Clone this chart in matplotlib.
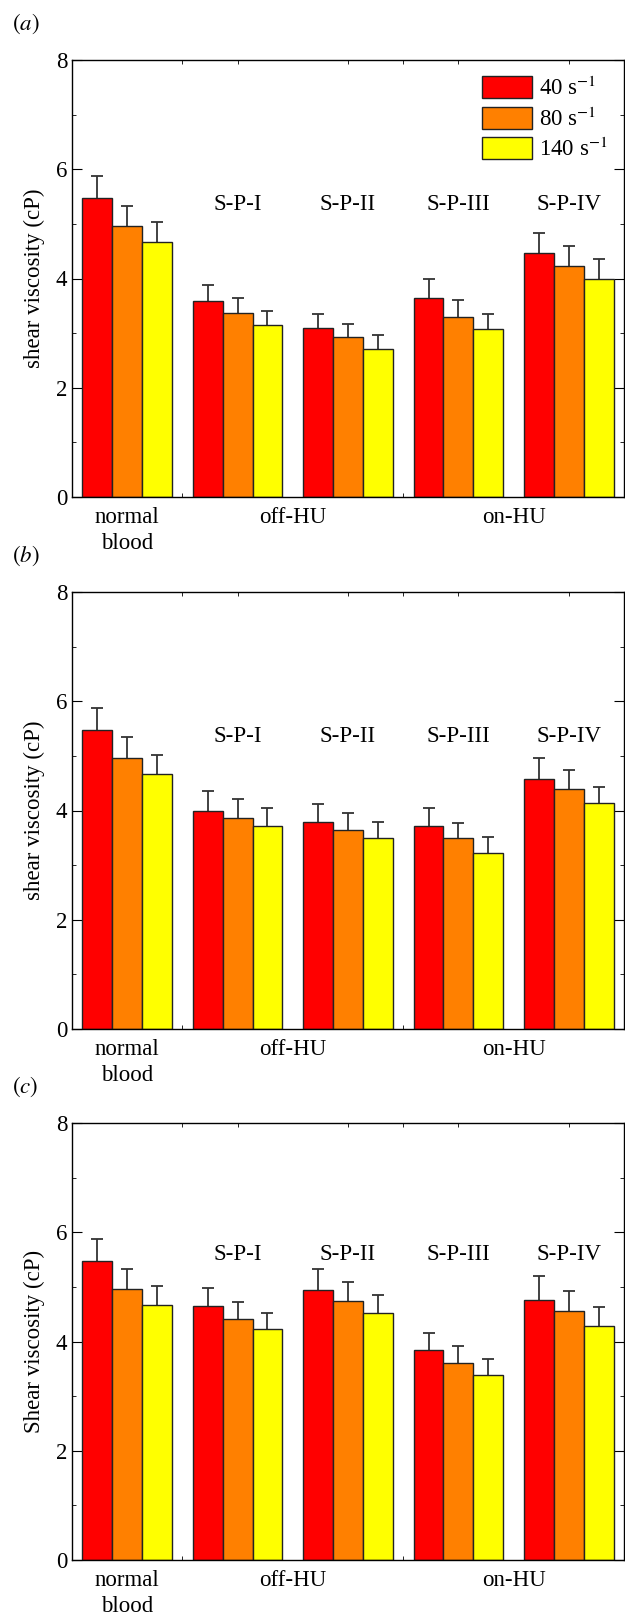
import numpy as np
import matplotlib
matplotlib.use('Agg')
import matplotlib.pyplot as plt

plt.rcParams['font.family'] = ['Liberation Serif', 'DejaVu Serif']
plt.rcParams['mathtext.fontset'] = 'stix'
plt.rcParams['font.size'] = 16.5

# data
groups = ['normal blood', 'S-P-I', 'S-P-II', 'S-P-III', 'S-P-IV']
group_tags = ['', 'S-P-I', 'S-P-II', 'S-P-III', 'S-P-IV']
rates = ['40 s$^{-1}$', '80 s$^{-1}$', '140 s$^{-1}$']

# panel (a)
a_40 = [5.48, 3.58, 3.09, 3.64, 4.47]
a_80 = [4.96, 3.37, 2.93, 3.30, 4.23]
a_140 = [4.67, 3.15, 2.71, 3.07, 3.99]
a_40_err = [0.40, 0.30, 0.26, 0.35, 0.37]
a_80_err = [0.37, 0.28, 0.24, 0.31, 0.37]
a_140_err = [0.36, 0.26, 0.26, 0.28, 0.37]

# panel (b)
b_40 = [5.48, 4.00, 3.79, 3.72, 4.57]
b_80 = [4.97, 3.87, 3.65, 3.49, 4.40]
b_140 = [4.67, 3.72, 3.49, 3.22, 4.13]
b_40_err = [0.40, 0.36, 0.32, 0.33, 0.40]
b_80_err = [0.37, 0.34, 0.30, 0.28, 0.34]
b_140_err = [0.35, 0.32, 0.30, 0.29, 0.30]

# panel (c)
c_40 = [5.48, 4.65, 4.95, 3.85, 4.76]
c_80 = [4.97, 4.42, 4.75, 3.61, 4.55]
c_140 = [4.67, 4.22, 4.53, 3.39, 4.28]
c_40_err = [0.40, 0.33, 0.38, 0.31, 0.44]
c_80_err = [0.36, 0.31, 0.34, 0.30, 0.37]
c_140_err = [0.35, 0.31, 0.33, 0.29, 0.36]

x_labels = ['normal\nblood', 'off-HU', 'on-HU']
x_label_pos = [0, 1.5, 3.5]

colors = ['#ff0000', '#ff8000', '#ffff00']
bar_w = 0.27

panels = [
    ('$(a)$', 'shear viscosity (cP)', [a_40, a_80, a_140], [a_40_err, a_80_err, a_140_err], 5.35),
    ('$(b)$', 'shear viscosity (cP)', [b_40, b_80, b_140], [b_40_err, b_80_err, b_140_err], 5.35),
    ('$(c)$', 'Shear viscosity (cP)', [c_40, c_80, c_140], [c_40_err, c_80_err, c_140_err], 5.6),
]

fig = plt.figure(figsize=(6.25, 16.2), dpi=100)
H = 1620.0
ax_tops = [60, 592, 1123]
ax_h = 437

for k, (tag, ylab, vals, errs, tag_y) in enumerate(panels):
    top = ax_tops[k]
    ax = fig.add_axes([72 / 625, 1 - (top + ax_h) / H, (624 - 72) / 625, ax_h / H])
    x = np.arange(len(groups))
    for j in range(3):
        ax.bar(x + (j - 1) * bar_w, vals[j], bar_w, color=colors[j],
               edgecolor='#222222', linewidth=1.0, label=rates[j], zorder=2)
        # lower half of the symmetric bar is hidden behind the bar
        ax.errorbar(x + (j - 1) * bar_w, vals[j], yerr=errs[j],
                    fmt='none', ecolor='#333333', elinewidth=1.3,
                    capsize=4, capthick=1.3, zorder=1)
    for i, t in enumerate(group_tags):
        if t:
            ax.text(i, tag_y, t, ha='center', va='center')
    ax.set_xlim(-0.5, 4.5)
    ax.set_ylim(0, 8)
    ax.set_yticks([0, 2, 4, 6, 8])
    ax.set_yticks([1, 3, 5, 7], minor=True)
    ax.set_xticks(x_label_pos)
    ax.set_xticklabels(x_labels, linespacing=1.35)
    ax.set_xticks(np.arange(0, 4.6, 0.5), minor=True)
    ax.tick_params(axis='x', which='major', length=0, pad=7)
    ax.tick_params(axis='x', which='minor', direction='in', length=3, top=True, bottom=True)
    ax.tick_params(axis='y', which='major', direction='in', length=7, left=True, right=True)
    ax.tick_params(axis='y', which='minor', direction='in', length=3, left=True, right=True)
    for s in ax.spines.values():
        s.set_linewidth(1.0)
    ax.set_ylabel(ylab, labelpad=8)
    fig.text(12 / 625, 1 - (top - 36) / H, tag, ha='left', va='center', fontsize=16.5)
    if k == 0:
        ax.legend(loc='upper right', bbox_to_anchor=(1.0, 1.0), frameon=False,
                  handlelength=2.2, handleheight=1.1, handletextpad=0.3,
                  labelspacing=0.3, borderaxespad=0.3)

fig.savefig('out.png', dpi=100)
